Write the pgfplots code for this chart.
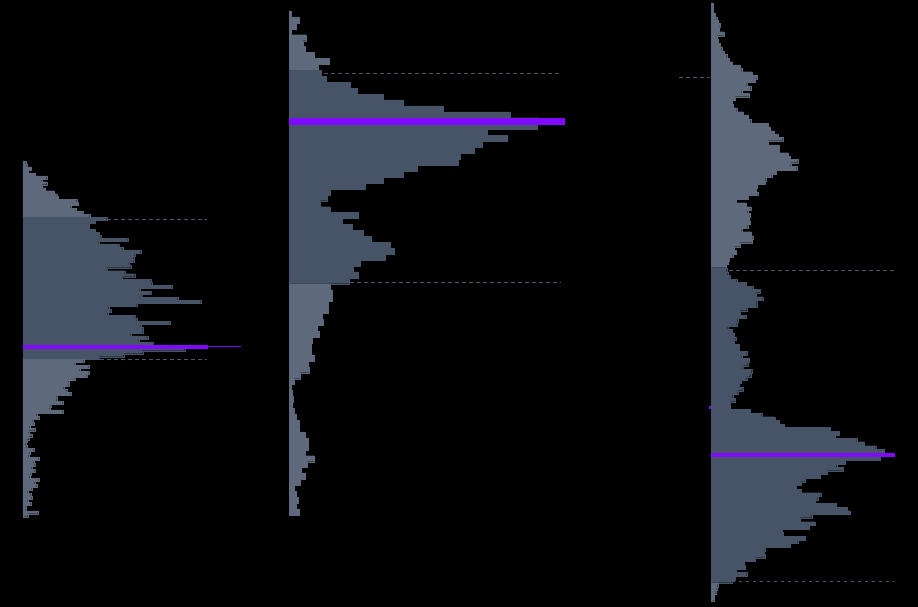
\documentclass[border=0pt]{standalone}
\usepackage{pgfplots}
\pgfplotsset{compat=1.18}
\definecolor{lightbar}{HTML}{5E6A7B}
\definecolor{darkbar}{HTML}{475366}
\definecolor{poc}{HTML}{7F0AFF}
\definecolor{vadash}{HTML}{4E586A}
\pgfplotsset{
  prof/.style={scale only axis, hide axis, clip=false, y dir=reverse, anchor=north west, xmin=0},
  lb/.style={xbar interval, fill=lightbar, draw=lightbar, line width=0.2pt},
  db/.style={xbar interval, fill=darkbar, draw=darkbar, line width=0.2pt},
  pb/.style={xbar interval, fill=poc, draw=poc, line width=0.2pt},
  va/.style={draw=vadash, line width=0.8pt, dash pattern=on 3.5pt off 3.5pt, mark=none},
}
\begin{document}
\begin{tikzpicture}
\fill[black] (0,0) rectangle (918pt,607pt);
% ---------------- Profile 1 ----------------
\begin{axis}[prof, at={(23pt,446pt)}, width=230pt, height=355.7pt, xmax=230, ymin=0, ymax=120]
\addplot[lb] table[x=w,y=k]{
k w
0 2.7
1 3.7
2 8
3 5
4 12
5 23.7
6 18.7
7 23.7
8 19
9 22
10 31
11 33.7
12 35
13 53.7
14 55
15 47.7
16 53
17 59.7
18 66.7
19 0
};
\addplot[db] table[x=w,y=k]{
k w
19 83.7
20 72
21 66
22 66
23 72
24 76.3
25 77.7
26 104.7
27 75.7
28 95.7
29 99.7
30 117.7
31 111.7
32 110.7
33 110.7
34 105.7
35 107.7
36 83.7
37 101.7
38 111.7
39 98.7
40 127.7
41 128.7
42 148.7
43 116.7
44 127.7
45 118.7
46 154.7
47 177.7
48 113.7
49 85.7
50 87.7
51 84.7
52 111.7
53 113.7
54 146.7
55 117.7
56 119.7
57 119.7
58 107.7
59 124.7
60 115.7
61 129.7
62 150
63 161.7
64 119.7
65 100.7
66 75.7
67 0
};
\addplot[lb] table[x=w,y=k]{
k w
67 60.7
68 51.7
69 65.7
70 56.7
71 65.7
72 63.7
73 51.7
74 45.7
75 45.7
76 40.7
77 43.7
78 47.7
79 33.7
80 33.7
81 39.7
82 27.7
83 26.7
84 39.7
85 13.7
86 15.7
87 9.7
88 10.7
89 6.7
90 11.7
91 5.7
92 8.7
93 5.7
94 3.7
95 2.7
96 3.7
97 10.7
98 6.7
99 5.7
100 15.7
101 10.7
102 11.7
103 8.7
104 11.7
105 7.7
106 6.7
107 15.7
108 11.7
109 13.7
110 8.7
111 4.7
112 7.7
113 8.7
114 4.7
115 7.7
116 2.7
117 2.7
118 14.7
119 4.7
120 0
};
\addplot[pb] table[x=w,y=k]{
k w
62 183.7
63 0
};
\addplot[poc, line width=1pt, mark=none] coordinates {(0,62.7) (218,62.7)};
\addplot[va] coordinates {(84,19.8) (184,19.8)};
\addplot[va] coordinates {(77,66.8) (184,66.8)};
\end{axis}
% ---------------- Profile 2 ----------------
\begin{axis}[prof, at={(289pt,596pt)}, width=280pt, height=504pt, xmax=280, ymin=0, ymax=85]
\addplot[lb] table[x=w,y=k]{
k w
0 2
1 10
2 7
3 2
4 17
5 14
6 16
7 25
8 40
9 29
10 0
};
\addplot[db] table[x=w,y=k]{
k w
10 32
11 37
12 61
13 68
14 94
15 114
16 154
17 221
18 250
19 248
20 198
21 218
22 193
23 185
24 171
25 169
26 128
27 114
28 94
29 76
30 41
31 38
32 31
33 41
34 69
35 53
36 63
37 74
38 82
39 101
40 105
41 96
42 71
43 64
44 69
45 60
46 0
};
\addplot[lb] table[x=w,y=k]{
k w
46 41
47 43
48 43
49 39
50 39
51 33
52 34
53 28
54 30
55 23
56 22
57 22
58 25
59 19
60 20
61 11
62 5
63 2
64 3
65 4
66 3
67 5
68 7
69 10
70 10
71 16
72 19
73 19
74 16
75 25
76 18
77 12
78 16
79 11
80 5
81 7
82 9
83 7
84 10
85 0
};
\addplot[pb] table[x=w,y=k]{
k w
18 275
19 0
};
\addplot[va] coordinates {(35,10.5) (272,10.5)};
\addplot[va] coordinates {(61,45.75) (272,45.75)};
\end{axis}
% ---------------- Profile 3 ----------------
\begin{axis}[prof, at={(676pt,607pt)}, width=225pt, height=607pt, xmin=-35, xmax=190, ymin=0, ymax=607]
\addplot[lb] table[x=w,y=p]{
p w
3 2.3
13.3 4
16.7 5.7
20 7.3
23.3 9
26.7 8
31.7 13
35.7 6.3
39.3 7.3
43.3 9
46.7 10.7
50.7 13
54.3 15.7
58.3 18.3
61.7 21.3
65 29
68.3 30.7
71.7 41.3
75 46.3
78.7 44
82.3 35.7
86 39.7
90 30.7
93.3 38
96.7 24
100 21.3
104 22.3
107.7 25.7
111.7 32.3
115 37.3
119 39.7
123.3 57.3
126.7 59
130.7 63
134 67.3
137.3 71.7
140.7 57.3
145 68.5
152.7 77.3
156 79
159.3 86.7
162.7 79.7
166 85.7
170 65
174 60.7
177.3 54.7
180.7 54
184 46.3
188.3 45
191.7 46.7
195 37.3
199 25
202.7 35
206.7 39.7
210 36.7
213.3 39
216.7 38
220.7 39
224 36.7
228.3 30.7
231.7 40
235.7 41.7
239.3 41.3
242.7 29
246.7 23
250 25
254 21.7
257.3 18.3
261 17.3
264.3 15
267.7 0
};
\addplot[db] table[x=w,y=p]{
p w
267.7 15.7
271.7 16.7
275 19
279 25.7
282.3 35
286 41.7
289.3 49
292.7 45
296.7 51.7
300 45.7
307.3 35.7
310.7 29
315 34.7
318.3 26.7
322.3 25.7
326 16.7
329.3 21.3
332.7 23
336.7 24.7
340 23.3
344 28
347.7 28
351 35.7
355 30.7
358.3 38
361.7 36.7
365.7 31.7
369 40.7
372.7 39.7
376.7 35.7
380 30
383.3 28
387.3 31.7
390.7 26.7
394.3 21.7
398.3 24
401.7 19
406 19
409 39
413.3 50.7
416.7 64
420 68.3
424 73
427.3 119
431 128
435 124
438.3 145.7
441.7 153
445.7 164.7
449 173
453.3 175
456 169
460 134
464 125.7
467.3 132.3
470.7 116.3
474 109
478 94
481.7 90
485 85
489 90
492.7 109.7
496 106.7
500 104
503.3 125
507.3 136
510.7 139
514 100.7
517.7 89
521.7 104
525 98
529 71.3
532.3 72
536 94
540 86.7
543.3 79
547.3 54
550.7 53
554.3 54
557.7 44
561 33.3
565 34
569 25
572.3 35.7
576 24
580 20.7
582.7 0
};
\addplot[lb] table[x=w,y=p]{
p w
582.7 6.7
586.7 5.7
590 4.7
594 3
597.3 3
600.7 0
};
\addplot[pb] table[x=w,y=p]{
p w
453.3 183
456 0
};
\addplot[poc, line width=2.7pt, mark=none] coordinates {(-2,407.5) (0,407.5)};
\addplot[va] coordinates {(-32,77.3) (-1,77.3)};
\addplot[va] coordinates {(18.3,270) (183,270)};
\addplot[va] coordinates {(20.7,581.3) (183,581.3)};
\end{axis}
\end{tikzpicture}
\end{document}
